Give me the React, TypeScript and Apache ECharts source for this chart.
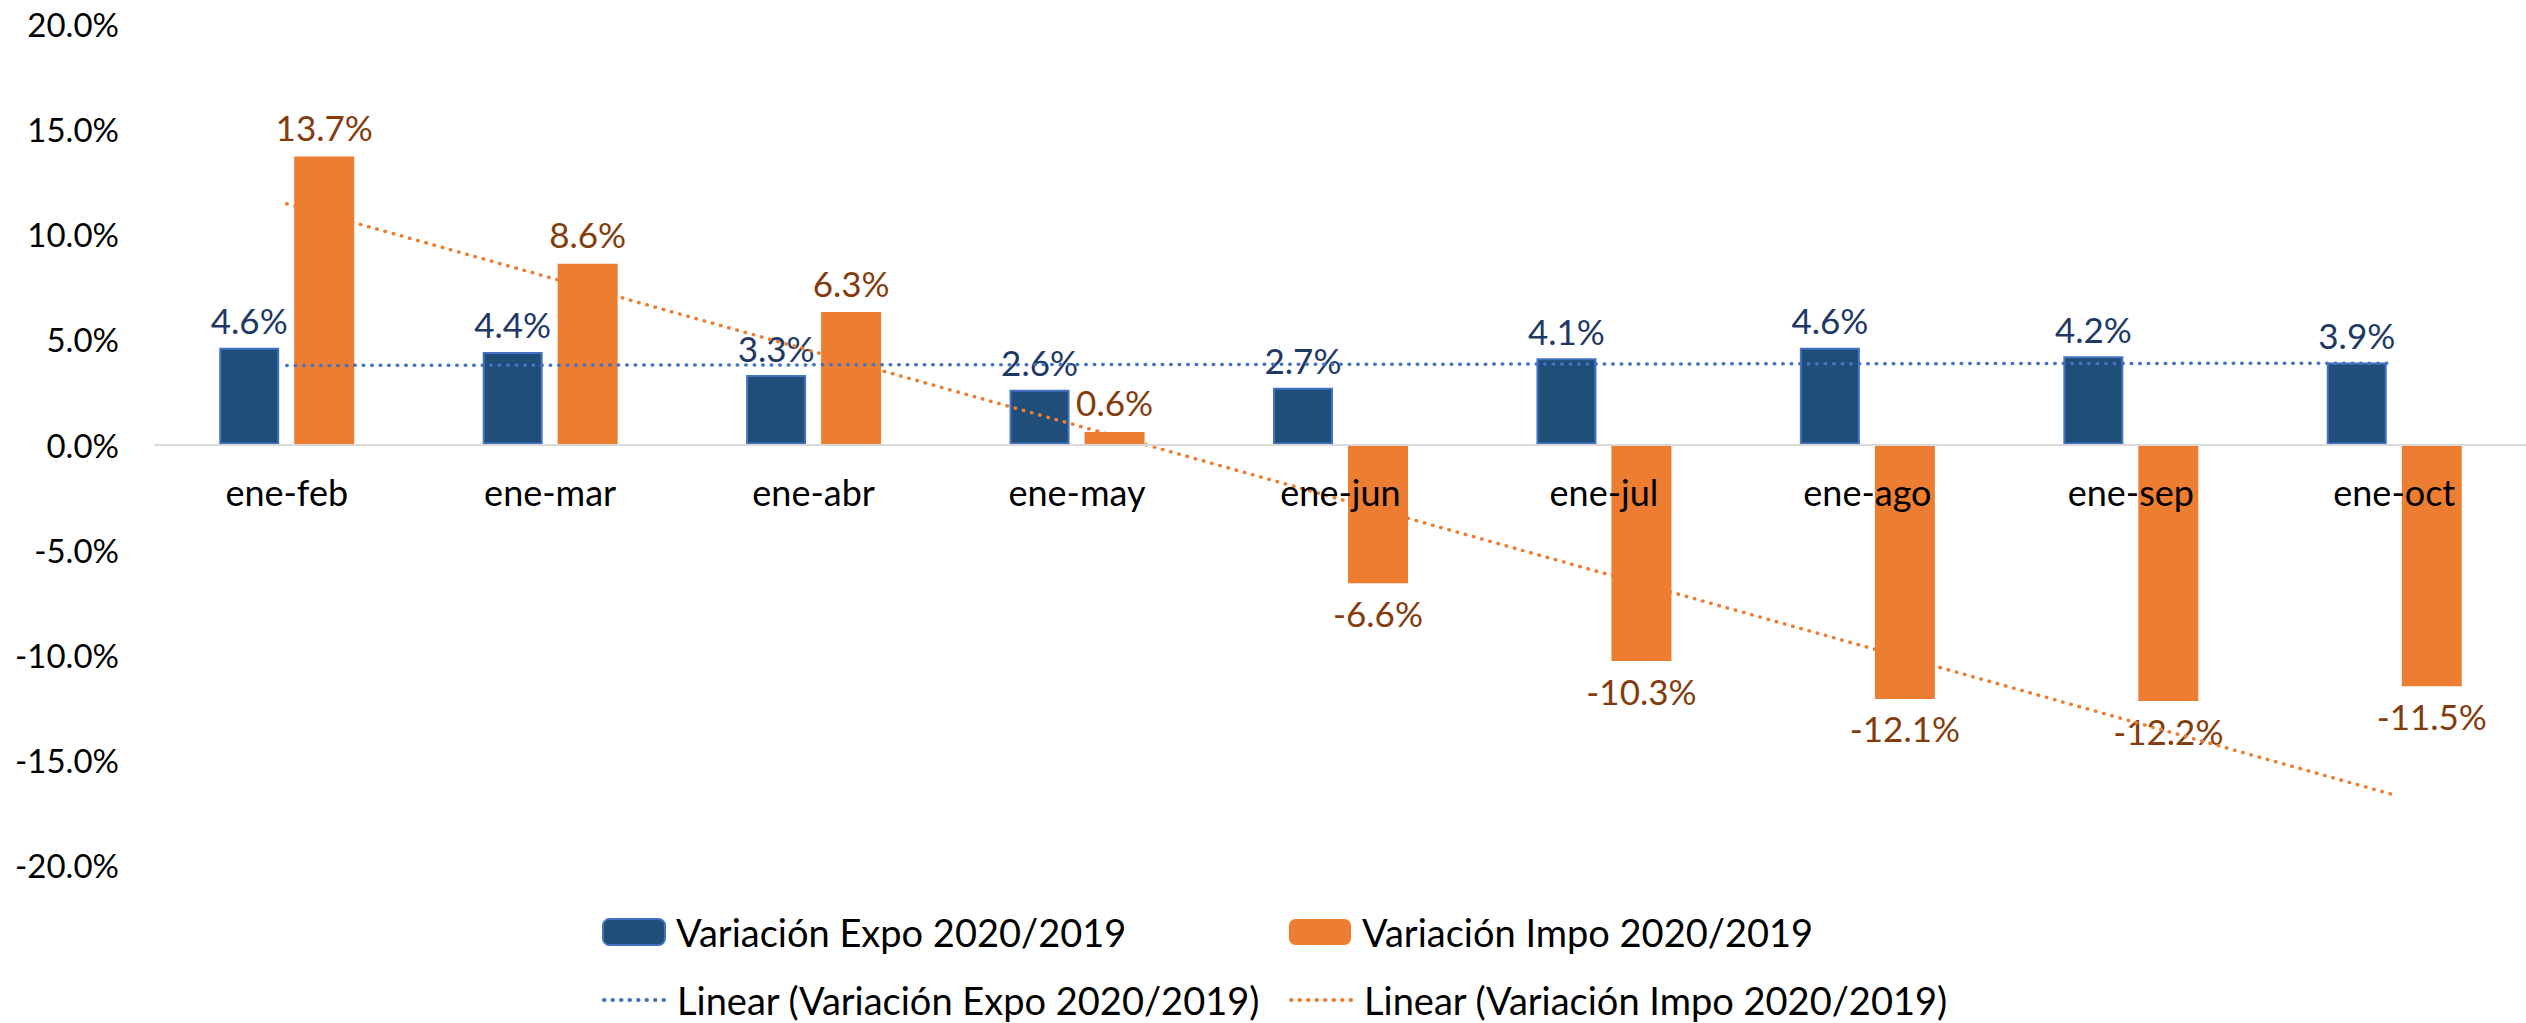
import React, { useEffect, useRef } from "react";
import * as echarts from "echarts";

const categories = ["ene-feb", "ene-mar", "ene-abr", "ene-may", "ene-jun", "ene-jul", "ene-ago", "ene-sep", "ene-oct"];
const expoValues = [4.6, 4.4, 3.3, 2.6, 2.7, 4.1, 4.6, 4.2, 3.9];
const impoValues = [13.7, 8.6, 6.3, 0.6, -6.6, -10.3, -12.1, -12.2, -11.5];
// Trend lines at the first and last category
const trendCategories = ["ene-feb", "ene-oct"];
const expoTrend = [3.76, 3.87];
const impoTrend = [11.45, -16.67];
const yTicks = { min: -20, max: 20, interval: 5 };

const expoName = "Variación Expo 2020/2019";
const impoName = "Variación Impo 2020/2019";
const expoTrendName = "Linear (Variación Expo 2020/2019)";
const impoTrendName = "Linear (Variación Impo 2020/2019)";

const FONT = "Lato, 'Noto Sans', sans-serif";

export default function App() {
  const ref = useRef<HTMLDivElement>(null);
  useEffect(() => {
    if (!ref.current) return;
    const chart = echarts.init(ref.current, undefined, { renderer: "svg" });
    const legendText = { fontSize: 38, color: "#000", fontFamily: FONT, padding: [0, 0, 0, 6] };
    const mkLegend = (name: string, left: number, top: number, isLine: boolean) => ({
      data: [name],
      left,
      top,
      padding: 0,
      itemWidth: 62,
      itemHeight: 26,
      itemGap: 0,
      textStyle: legendText,
      selectedMode: false,
      ...(isLine ? { itemStyle: { opacity: 0 }, lineStyle: { width: 4, opacity: 1 } } : {}),
    });
    const gridTop = 24;
    const gridBottom = 158;
    const plotH = 1023 - gridTop - gridBottom;
    const zeroOffset = (plotH * (0 - yTicks.min)) / (yTicks.max - yTicks.min);
    chart.setOption({
      animation: false,
      backgroundColor: "#fff",
      textStyle: { fontFamily: FONT },
      grid: { left: 155, right: -5, top: gridTop, bottom: gridBottom, containLabel: false },
      legend: [
        mkLegend(expoName, 602, 913, false),
        mkLegend(impoName, 1289, 913, false),
        mkLegend(expoTrendName, 602, 981, true),
        mkLegend(impoTrendName, 1289, 981, true),
      ],
      xAxis: {
        type: "category",
        data: categories,
        offset: -zeroOffset,
        z: 10,
        axisTick: { show: false },
        axisLine: { onZero: false, lineStyle: { color: "#D9D9D9", width: 2 } },
        axisLabel: { fontSize: 36, color: "#000", margin: 29, fontFamily: FONT },
        splitLine: { show: false },
      },
      yAxis: {
        type: "value",
        min: yTicks.min,
        max: yTicks.max,
        interval: yTicks.interval,
        axisLine: { show: false },
        axisTick: { show: false },
        splitLine: { show: false },
        axisLabel: {
          fontSize: 33,
          color: "#000",
          margin: 36,
          fontFamily: FONT,
          formatter: (v: number) => v.toFixed(1) + "%",
        },
      },
      series: [
        {
          name: expoName,
          type: "bar",
          barWidth: 60,
          barGap: "25%",
          data: expoValues,
          itemStyle: { color: "#1F4E79", borderColor: "#4472C4", borderWidth: 2 },
          label: {
            show: true,
            position: "top",
            distance: 10,
            fontSize: 35,
            color: "#203864",
            fontFamily: FONT,
            formatter: (p: any) => p.value.toFixed(1) + "%",
          },
          z: 2,
        },
        {
          name: impoName,
          type: "bar",
          barWidth: 60,
          barGap: "25%",
          data: impoValues.map((v) => ({ value: v, label: { position: v < 0 ? "bottom" : "top" } })),
          itemStyle: { color: "#ED7D31" },
          label: {
            show: true,
            distance: 12,
            fontSize: 35,
            color: "#843C0C",
            fontFamily: FONT,
            formatter: (p: any) => p.value.toFixed(1) + "%",
          },
          z: 2,
        },
        {
          name: expoTrendName,
          type: "line",
          data: trendCategories.map((c, i) => [c, expoTrend[i]]),
          symbol: "none",
          itemStyle: { color: "#4472C4" },
          lineStyle: { color: "#4472C4", width: 3.5, type: [0.5, 8], cap: "round" },
          z: 3,
        },
        {
          name: impoTrendName,
          type: "line",
          data: trendCategories.map((c, i) => [c, impoTrend[i]]),
          symbol: "none",
          itemStyle: { color: "#ED7D31" },
          lineStyle: { color: "#ED7D31", width: 3.5, type: [0.5, 8], cap: "round" },
          z: 3,
        },
      ],
    });
    return () => chart.dispose();
  }, []);
  return (
    <div
      ref={ref}
      style={{ position: "absolute", left: 0, top: 0, width: 2526, height: 1023 }}
    />
  );
}
